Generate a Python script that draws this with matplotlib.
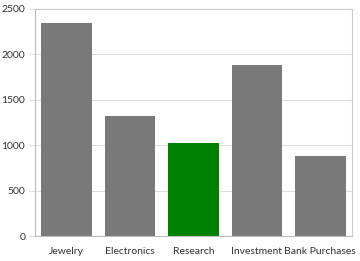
import matplotlib.pyplot as plt

categories = ['Jewelry', 'Electronics', 'Research', 'Investment', 'Bank Purchases']
values = [2350, 1320, 1020, 1880, 880]
colors = ['#797979', '#797979', '#008000', '#797979', '#797979']
yticks = [0, 500, 1000, 1500, 2000, 2500]

plt.rcParams['font.family'] = ['Lato', 'DejaVu Sans']

fig = plt.figure(figsize=(3.6, 2.61), dpi=100)
ax = fig.add_axes([35/360, 1 - 236/261, (352-35)/360, (236-9)/261])

x = range(len(categories))
ax.bar(x, values, width=0.8, color=colors, zorder=2)
ax.set_xlim(-0.5, len(categories) - 0.5)
ax.set_ylim(0, 2500)
ax.set_yticks(yticks)
ax.set_xticks(list(x))
ax.set_xticklabels(categories)
ax.grid(axis='y', color='#dddddd', linewidth=0.8, zorder=0)
for s in ax.spines.values():
    s.set_color('#cccccc')
    s.set_linewidth(0.8)
ax.spines['left'].set_color('#bbbbbb')
ax.spines['bottom'].set_color('#bbbbbb')
ax.tick_params(axis='x', length=0, labelsize=7.5, colors='#333333', pad=8)
ax.tick_params(axis='y', length=4, color='#dddddd', labelsize=7.5, labelcolor='#333333', pad=3)

fig.savefig('out.png', dpi=100)
